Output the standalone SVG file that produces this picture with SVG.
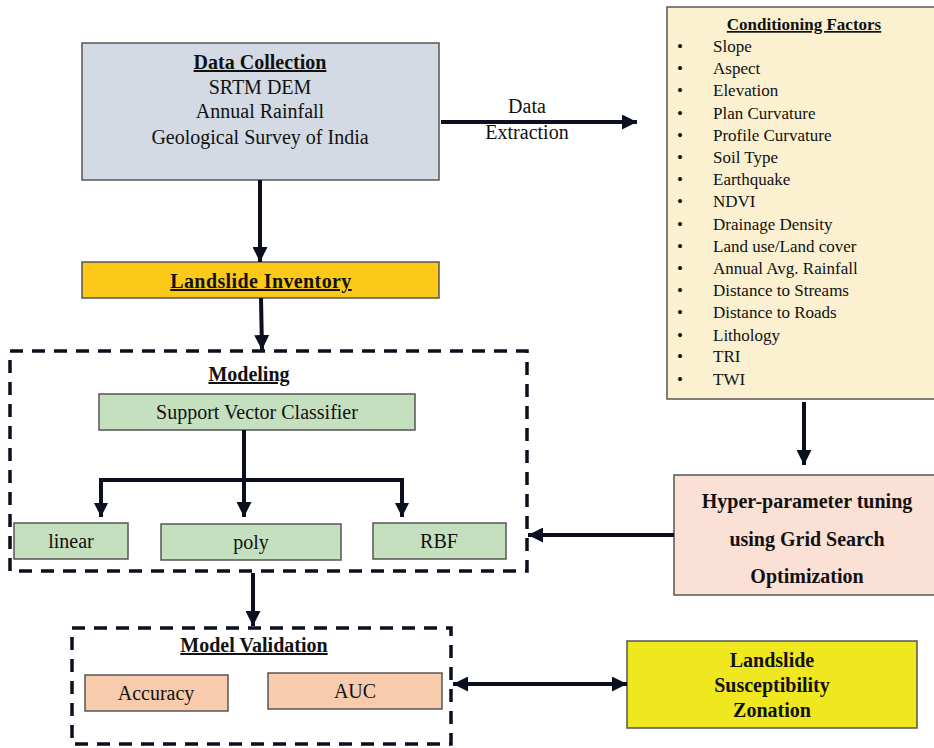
<svg xmlns="http://www.w3.org/2000/svg" width="934" height="748" viewBox="0 0 934 748">
<defs>
<marker id="ah" viewBox="0 0 10 10" refX="10" refY="5" markerWidth="15" markerHeight="15" markerUnits="userSpaceOnUse" orient="auto-start-reverse">
<path d="M0,0 L10,5 L0,10 z" fill="#0b0f1f"/>
</marker>
</defs>
<style>
text{font-family:"Liberation Serif","Times New Roman",serif;fill:#111;}
.t{font-size:20px;text-anchor:middle;}
.b{font-weight:bold;}
.u{text-decoration:underline;}
.box{stroke:#555;stroke-width:1.5;}
.dash{fill:none;stroke:#0b0f1f;stroke-width:3.5;stroke-dasharray:13 9;}
.c{fill:none;stroke:#0b0f1f;stroke-width:4;}
.li{font-size:17px;}
</style>
<rect width="934" height="748" fill="#fff"/>

<g id="data-collection">
<rect class="box" x="82" y="43" width="357" height="137" fill="#d3dae4"/>
<text class="t b u" x="260" y="69">Data Collection</text>
<text class="t" x="260" y="94">SRTM DEM</text>
<text class="t" x="260" y="118">Annual Rainfall</text>
<text class="t" x="260" y="144">Geological Survey of India</text>
</g>

<g id="landslide-inventory">
<rect class="box" x="82" y="262" width="357" height="36" fill="#fcc918"/>
<text class="t b u" x="261" y="288" letter-spacing="0.4">Landslide Inventory</text>
</g>

<g id="conditioning-factors">
<rect class="box" x="667" y="7" width="270" height="392" fill="#fbf0cf"/>
<text class="b u" x="804" y="30" font-size="17" text-anchor="middle">Conditioning Factors</text>
<g class="li">
<text x="677" y="52">•</text><text x="713" y="52">Slope</text>
<text x="677" y="74">•</text><text x="713" y="74">Aspect</text>
<text x="677" y="96">•</text><text x="713" y="96">Elevation</text>
<text x="677" y="119">•</text><text x="713" y="119">Plan Curvature</text>
<text x="677" y="141">•</text><text x="713" y="141">Profile Curvature</text>
<text x="677" y="163">•</text><text x="713" y="163">Soil Type</text>
<text x="677" y="185">•</text><text x="713" y="185">Earthquake</text>
<text x="677" y="207">•</text><text x="713" y="207">NDVI</text>
<text x="677" y="230">•</text><text x="713" y="230">Drainage Density</text>
<text x="677" y="252">•</text><text x="713" y="252">Land use/Land cover</text>
<text x="677" y="274">•</text><text x="713" y="274">Annual Avg. Rainfall</text>
<text x="677" y="296">•</text><text x="713" y="296">Distance to Streams</text>
<text x="677" y="318">•</text><text x="713" y="318">Distance to Roads</text>
<text x="677" y="341">•</text><text x="713" y="341">Lithology</text>
<text x="677" y="362">•</text><text x="713" y="362">TRI</text>
<text x="677" y="385">•</text><text x="713" y="385">TWI</text>
</g>
</g>

<g id="modeling">
<rect class="dash" x="10" y="351" width="517" height="220"/>
<text class="t b u" x="249" y="381">Modeling</text>
</g>

<g id="svc">
<rect class="box" x="99" y="394" width="316" height="36" fill="#c5e0bf"/>
<text class="t" x="257" y="419" font-size="19.5">Support Vector Classifier</text>
</g>
<g id="linear">
<rect class="box" x="14" y="523" width="114" height="36" fill="#c5e0bf"/>
<text class="t" x="71" y="548" font-size="19.5">linear</text>
</g>
<g id="poly">
<rect class="box" x="161" y="524" width="180" height="36" fill="#c5e0bf"/>
<text class="t" x="251" y="549" font-size="19.5">poly</text>
</g>
<g id="rbf">
<rect class="box" x="373" y="523" width="133" height="36" fill="#c5e0bf"/>
<text class="t" x="439" y="548" font-size="19.5">RBF</text>
</g>

<g id="hyper-parameter">
<rect class="box" x="674" y="475" width="262" height="120" fill="#fbe1d5"/>
<text class="t b" x="807" y="508">Hyper-parameter tuning</text>
<text class="t b" x="807" y="546">using Grid Search</text>
<text class="t b" x="807" y="583">Optimization</text>
</g>

<g id="model-validation">
<rect class="dash" x="72" y="628" width="379" height="116"/>
<text class="t b u" x="254" y="652">Model Validation</text>
</g>
<g id="accuracy">
<rect class="box" x="85" y="675" width="143" height="36" fill="#f7cbab"/>
<text class="t" x="156" y="700" font-size="19.5">Accuracy</text>
</g>
<g id="auc">
<rect class="box" x="268" y="673" width="174" height="36" fill="#f7cbab"/>
<text class="t" x="355" y="698" font-size="19.5">AUC</text>
</g>

<g id="lsz">
<rect class="box" x="627" y="641" width="290" height="87" fill="#f0e81f"/>
<text class="t b" x="772" y="667">Landslide</text>
<text class="t b" x="772" y="692">Susceptibility</text>
<text class="t b" x="772" y="717">Zonation</text>
</g>

<g id="connectors">
<line class="c" x1="260" y1="180" x2="260" y2="262" marker-end="url(#ah)"/>
<line class="c" x1="261" y1="298" x2="262" y2="350" marker-end="url(#ah)"/>
<line class="c" x1="441" y1="122" x2="637" y2="122" marker-end="url(#ah)"/>
<text x="527" y="113" font-size="20" text-anchor="middle">Data</text>
<text x="527" y="139" font-size="20" text-anchor="middle">Extraction</text>
<line class="c" x1="804" y1="402" x2="804" y2="465" marker-end="url(#ah)"/>
<line class="c" x1="244" y1="430" x2="244" y2="480"/>
<polyline class="c" points="101,517 101,480 402,480 402,517"/>
<polygon points="94,503 108,503 101,517" fill="#0b0f1f"/>
<polygon points="395,503 409,503 402,517" fill="#0b0f1f"/>
<line class="c" x1="244" y1="478" x2="244" y2="517" marker-end="url(#ah)"/>
<line class="c" x1="674" y1="535" x2="528" y2="535" marker-end="url(#ah)"/>
<line class="c" x1="253" y1="573" x2="253" y2="626" marker-end="url(#ah)"/>
<line class="c" x1="453" y1="684" x2="627" y2="684" stroke-width="3.5" marker-start="url(#ah)" marker-end="url(#ah)"/>
</g>
</svg>
